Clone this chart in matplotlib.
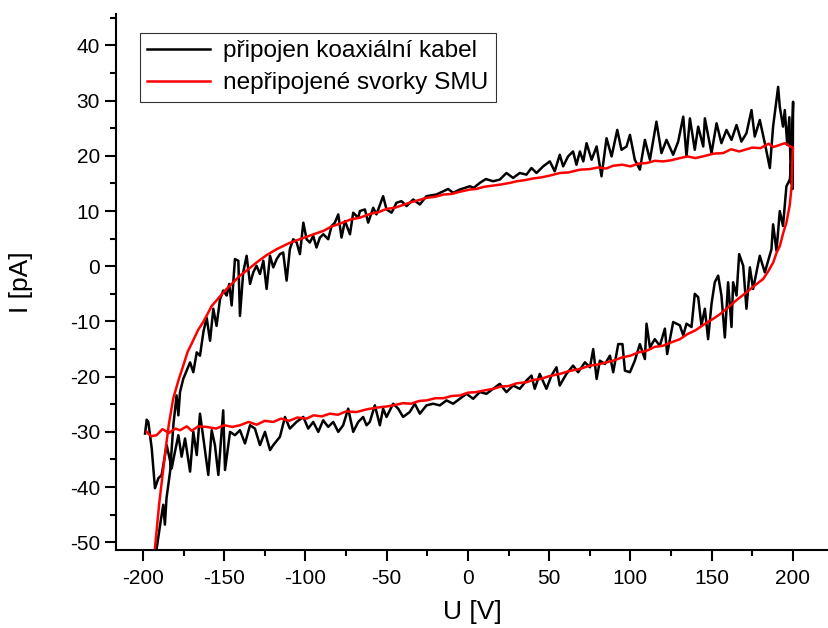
import numpy as np
import matplotlib
matplotlib.use("Agg")
import matplotlib.pyplot as plt
from matplotlib.ticker import MultipleLocator

plt.rcParams['font.family'] = ['Liberation Sans', 'DejaVu Sans']
plt.rcParams['axes.unicode_minus'] = False

# black: lower branch (sweep up)
u_black_low = [-198.7, -197.7, -196.7, -194.6, -192.6, -190.5, -188.5, -185.4, -182.3, -180.3,
               -178.2, -176.2, -174.1, -171.0, -169.0, -166.9, -164.9, -162.8, -159.8, -157.7,
               -155.7, -153.6, -150.6, -149.5, -146.4, -143.4, -140.3, -137.2, -134.1, -131.1,
               -128.0, -124.9, -121.8, -119.8, -115.7, -112.6, -109.6, -105.5, -101.3, -98.3,
               -95.2, -92.1, -89.1, -86.0, -82.9, -79.8, -76.8, -73.7, -70.6, -67.5,
               -64.5, -62.4, -60.4, -57.3, -54.2, -52.2, -50.1, -46.0, -42.9, -39.9,
               -35.8, -32.7, -29.6, -25.5, -21.4, -17.3, -13.2, -9.1, -5.0, -0.9,
               3.2, 7.3, 11.4, 15.5, 19.6, 23.7, 27.8, 31.9, 36.0, 39.1,
               41.1, 44.2, 48.3, 51.4, 54.5, 56.5, 60.6, 64.7, 67.8, 72.0,
               75.1, 77.1, 79.2, 81.2, 84.3, 87.4, 89.4, 92.5, 95.1, 96.6,
               99.7, 102.7, 105.8, 108.9, 109.9, 112.0, 115.0, 118.1, 121.2, 122.6,
               126.3, 130.4, 132.5, 134.5, 137.6, 139.6, 141.7, 143.7, 145.8, 147.8,
               149.9, 151.9, 154.0, 156.0, 158.1, 160.1, 162.2, 163.2, 165.3, 166.9,
               169.4, 171.4, 173.5, 175.5, 179.6, 182.7, 186.8, 187.8, 189.9, 191.9,
               193.9, 196.0, 198.1, 199.3, 199.8]
i_black_low = [-30.3, -27.8, -28.2, -33.0, -40.2, -38.4, -37.8, -32.4, -36.6, -33.6,
               -30.6, -34.5, -31.2, -37.2, -30.0, -34.2, -26.7, -31.2, -37.8, -29.7,
               -32.4, -37.8, -26.1, -36.9, -30.0, -30.6, -29.7, -32.1, -28.8, -29.4,
               -32.4, -30.0, -33.3, -32.4, -30.9, -27.3, -29.4, -28.2, -27.3, -29.4,
               -28.2, -30.0, -27.9, -29.1, -28.2, -30.0, -28.8, -25.8, -30.0, -28.2,
               -27.3, -28.8, -28.2, -25.2, -28.8, -25.8, -27.3, -24.9, -25.8, -27.3,
               -26.4, -24.9, -26.7, -25.2, -24.9, -25.2, -24.3, -24.9, -24.0, -23.1,
               -24.0, -22.8, -23.1, -22.2, -21.3, -22.8, -21.6, -22.2, -20.7, -19.8,
               -22.2, -19.5, -22.2, -19.8, -18.3, -21.6, -19.5, -18.0, -19.2, -17.4,
               -18.3, -15.0, -20.4, -17.1, -17.7, -16.2, -19.2, -14.1, -14.1, -18.9,
               -19.2, -17.1, -14.1, -16.8, -10.4, -14.7, -13.2, -14.4, -11.3, -15.9,
               -10.1, -10.7, -12.5, -10.4, -11.0, -5.0, -5.6, -10.7, -7.7, -13.2,
               -6.8, -2.9, -1.7, -5.3, -12.9, -2.9, -11.0, -2.9, -5.3, 2.2,
               0.1, -7.7, -0.2, -4.1, 1.9, -1.1, 3.1, 7.6, 2.8, 10.0,
               7.3, 14.5, 15.7, 20.0, 14.0]

# black: upper branch (sweep down)
u_black_up = [200.1, 198.8, 197.8, 196.5, 195.0, 193.9, 191.9, 190.9, 187.8, 185.8,
              182.7, 179.6, 176.5, 174.5, 171.4, 168.3, 165.3, 162.2, 159.1, 156.0,
              153.0, 149.9, 145.8, 144.8, 141.7, 139.6, 136.6, 134.5, 132.5, 129.4,
              126.3, 122.2, 119.1, 116.0, 112.0, 108.9, 105.8, 102.7, 99.7, 97.6,
              94.5, 91.9, 88.4, 85.3, 82.2, 79.2, 76.1, 73.0, 71.0, 68.9,
              66.8, 64.7, 61.6, 58.6, 56.5, 53.4, 50.4, 46.3, 42.2, 39.1,
              36.0, 31.9, 27.8, 23.7, 19.6, 15.5, 11.0, 7.3, 3.5, 1.2,
              -5.0, -9.1, -12.2, -19.4, -25.5, -29.6, -33.7, -37.8, -40.9, -44.0,
              -47.0, -50.1, -52.2, -56.3, -58.3, -61.4, -63.4, -66.5, -67.5, -70.6,
              -72.6, -75.7, -77.8, -79.8, -81.9, -83.9, -86.0, -89.0, -91.1, -93.2,
              -95.2, -97.3, -99.3, -101.3, -103.4, -105.4, -107.5, -109.6, -111.6, -113.7,
              -115.7, -117.7, -119.8, -121.8, -123.9, -125.9, -128.0, -130.1, -132.1, -134.1,
              -136.2, -138.3, -140.3, -141.3, -143.4, -145.4, -146.9, -148.5, -150.6, -152.6,
              -154.7, -156.7, -158.7, -160.8, -162.8, -164.9, -166.9, -169.0, -171.0, -173.1,
              -175.2, -177.2, -178.2, -179.3, -181.3, -182.3, -183.3, -185.5, -186.5, -187.5,
              -189.0, -191.5, -193.5]
i_black_up = [29.8, 15.0, 27.0, 22.0, 28.3, 25.3, 28.9, 32.5, 25.3, 17.8,
              22.3, 26.5, 23.5, 28.3, 24.1, 22.6, 25.6, 22.9, 24.7, 22.3,
              25.9, 20.5, 26.8, 21.7, 25.3, 21.1, 26.8, 19.9, 27.1, 22.6,
              20.2, 22.9, 20.5, 26.2, 19.3, 22.9, 17.5, 19.3, 23.8, 21.7,
              21.1, 24.7, 19.9, 23.2, 16.3, 21.7, 19.3, 22.3, 19.0, 20.8,
              18.4, 20.8, 19.9, 18.1, 20.2, 17.2, 19.0, 18.1, 16.9, 17.8,
              16.6, 16.9, 16.0, 16.9, 15.7, 15.4, 15.8, 15.1, 14.2, 14.5,
              13.9, 13.3, 14.0, 13.0, 12.7, 11.2, 12.1, 10.9, 11.8, 11.5,
              9.7, 10.3, 12.7, 9.4, 10.6, 7.9, 10.3, 10.0, 8.8, 9.7,
              5.8, 8.2, 5.2, 9.4, 7.9, 7.3, 4.9, 5.8, 5.2, 3.4,
              5.5, 4.3, 4.9, 7.9, 2.2, 4.3, 4.9, 3.1, -2.6, 2.5,
              2.2, 1.3, -0.2, 1.9, -4.1, 1.0, -1.4, 0.1, -1.1, -3.2,
              1.9, -1.1, -9.0, 1.0, 1.3, -7.1, -3.2, -5.3, -4.4, -6.0,
              -10.8, -7.7, -13.5, -9.3, -11.9, -16.2, -15.6, -19.2, -17.4, -18.9,
              -20.4, -22.8, -27.0, -23.4, -28.8, -33.0, -37.2, -42.0, -46.8, -43.2,
              -46.0, -51.0, -58.0]

# red: lower branch (sweep up)
u_red_low = [-197.7, -195, -191.6, -188, -184, -180, -177.2, -173, -170, -166,
             -160.8, -155, -150, -145, -140.3, -135, -130, -125, -119.8, -115,
             -110, -105, -99.3, -95, -90, -85, -80, -75, -68.5, -62,
             -56, -50, -46, -40, -35, -30, -25.4, -20, -15, -10,
             -4.9, 0, 5, 10, 15.6, 20, 25, 30, 36.1, 40,
             45, 50, 56.6, 62, 68.9, 75, 80, 89.4, 95, 100,
             105, 110, 115, 120, 125, 130.5, 135, 140, 145, 151,
             155, 161.2, 165, 171.5, 176, 181.7, 185, 187.9, 190, 192,
             194, 196, 198, 199.2, 199.6, 200]
i_red_low = [-30.0, -30.8, -30.6, -29.5, -30.2, -29.4, -29.7, -29.0, -29.8, -29.0,
             -29.1, -29.4, -28.8, -29.1, -28.8, -28.2, -28.7, -28.0, -28.2, -27.6,
             -28.0, -27.4, -27.6, -27.0, -27.2, -26.7, -26.9, -26.3, -26.4, -25.9,
             -25.6, -25.4, -25.2, -24.8, -24.9, -24.4, -24.3, -23.9, -23.9, -23.5,
             -23.4, -22.9, -22.8, -22.5, -22.2, -21.8, -21.7, -21.2, -21.0, -20.6,
             -20.4, -19.9, -19.5, -19.0, -18.6, -18.0, -17.8, -17.1, -16.5, -16.2,
             -15.6, -15.3, -14.6, -14.4, -13.8, -13.2, -12.3, -11.6, -10.6, -9.5,
             -8.7, -7.2, -6.2, -4.7, -3.6, -2.3, -0.8, 0.7, 2.5, 3.7,
             6.0, 7.9, 11.0, 14.5, 18.5, 21.5]

# red: upper branch (sweep down)
u_red_up = [198.2, 195, 192, 188, 185, 180, 175, 171.5, 167, 162,
            157, 151, 146, 140, 135, 130.5, 125, 120, 115, 110,
            105, 100, 95, 89.2, 85, 80, 75, 68.9, 62, 56.6,
            50, 45, 40, 35, 30, 25.8, 20, 15, 10, 5,
            1.2, -5, -10, -15, -20, -25.4, -30, -35, -40, -45,
            -50, -55, -60, -66.5, -72, -78, -84, -89, -95, -103.4,
            -110, -117.7, -124, -130, -135, -140.3, -144, -148.5, -153, -157.7,
            -160, -162.9, -166, -170, -172.5, -175.2, -178, -181.4, -184, -186,
            -188, -190, -192.6, -194]
i_red_up = [21.7, 22.3, 22.0, 21.6, 22.2, 21.4, 21.5, 21.2, 20.8, 21.2,
            20.5, 20.4, 20.0, 19.6, 19.9, 19.6, 19.2, 19.0, 19.1, 18.7,
            18.6, 18.1, 18.4, 18.2, 17.7, 17.9, 17.6, 17.5, 17.0, 16.9,
            16.4, 16.1, 15.9, 15.6, 15.4, 15.1, 14.8, 14.6, 14.4, 14.0,
            13.9, 13.5, 13.1, 13.0, 12.6, 12.4, 12.0, 11.6, 11.1, 10.6,
            10.4, 9.8, 9.5, 8.8, 8.5, 7.8, 7.2, 6.4, 5.8, 4.9,
            4.2, 3.1, 2.0, 0.7, -0.5, -1.7, -2.8, -4.1, -5.6, -7.2,
            -8.5, -10.1, -11.5, -14.0, -15.5, -18.0, -20.5, -24.0, -28.5, -33.0,
            -38.0, -43.0, -51.0, -56.0]

labels = ['připojen koaxiální kabel', 'nepřipojené svorky SMU']

fig = plt.figure(figsize=(8.29, 6.28), dpi=100)
ax = fig.add_axes([0.1399, 0.1242, 0.8601, 0.8535])

ax.plot(u_black_low + u_black_up, i_black_low + i_black_up, color='black', lw=1.8, label=labels[0])
ax.plot(u_red_low + u_red_up, i_red_low + i_red_up, color='#ff0000', lw=1.8, label=labels[1])

ax.set_xlim(-216.6, 222.2)
ax.set_ylim(-51.4, 45.7)
ax.xaxis.set_major_locator(MultipleLocator(50))
ax.xaxis.set_minor_locator(MultipleLocator(25))
ax.yaxis.set_major_locator(MultipleLocator(10))
ax.yaxis.set_minor_locator(MultipleLocator(5))

for side in ['top', 'right']:
    ax.spines[side].set_visible(False)
for side in ['left', 'bottom']:
    ax.spines[side].set_linewidth(1.5)
ax.tick_params(which='major', direction='out', length=8, width=1.5, labelsize=15)
ax.tick_params(axis='y', which='major', pad=3.5)
ax.tick_params(axis='x', which='major', pad=6)
ax.tick_params(which='minor', direction='out', length=4.5, width=1.5)

ax.set_xlabel('U [V]', fontsize=19, va='center')
ax.set_ylabel('I [pA]', fontsize=19, va='center')
ax.xaxis.set_label_coords(0.5, (550 - 612) / 536)
ax.yaxis.set_label_coords((21 - 116) / 713, 0.5)

leg = ax.legend(loc='upper left', bbox_to_anchor=(140 / 829, 1 - 33 / 628), bbox_transform=fig.transFigure,
                fontsize=17.6, frameon=True, fancybox=False, handlelength=2.55, handletextpad=0.55,
                borderpad=0.3, labelspacing=0.4, borderaxespad=0)
leg.get_frame().set_edgecolor('black')
leg.get_frame().set_linewidth(0.8)

fig.savefig('out.png', dpi=100)
